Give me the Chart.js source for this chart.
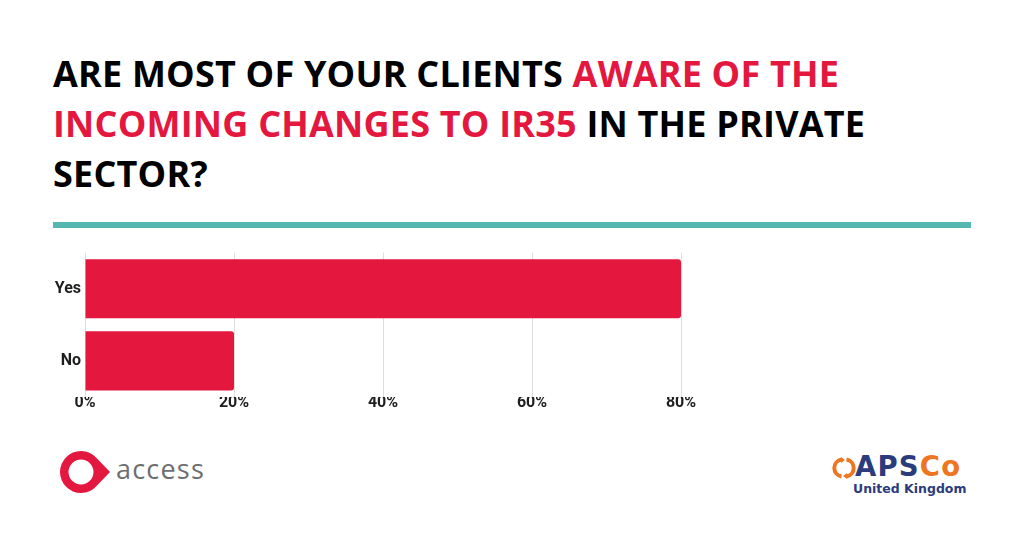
<!DOCTYPE html>
<html>
<head>
<meta charset="utf-8">
<script src="https://cdn.jsdelivr.net/npm/chart.js@4.4.0/dist/chart.umd.min.js"></script>
<style>
  html, body { margin:0; padding:0; background:#fff; }
  body { width:1024px; height:535px; position:relative; overflow:hidden; font-family:"Open Sans", sans-serif; }
  #title { position:absolute; left:53px; top:49px; width:940px; font-family:"Open Sans", sans-serif; font-weight:700; font-size:36px; line-height:50px; color:#000; letter-spacing:0.2px; }
  #title .hl { color:#e4173f; }
  #rule { position:absolute; left:53px; top:222px; width:918px; height:6px; background:#55b8b0; }
  #wrap { position:absolute; left:40px; top:239px; width:680px; height:178px; }
  #access { position:absolute; left:56px; top:446px; width:160px; height:54px; }
  #accessText { position:absolute; left:116px; top:451px; font-family:"Open Sans", sans-serif; font-size:27px; color:#6d6e70; letter-spacing:1.2px; line-height:36px; }
  #apsIcon { position:absolute; left:832px; top:457px; width:24px; height:22px; }
  #aps { position:absolute; left:855px; top:451px; font-family:"DejaVu Sans", sans-serif; font-weight:700; font-size:27.5px; line-height:30px; color:#2b3b7c; letter-spacing:1.2px; }
  #aps .co { color:#ee7623; }
  #uk { position:absolute; left:853px; top:481px; font-family:"DejaVu Sans", sans-serif; font-weight:700; font-size:12.5px; line-height:16px; color:#2b3b7c; }
</style>
</head>
<body>
<div id="title">ARE MOST OF YOUR CLIENTS <span class="hl">AWARE OF THE INCOMING CHANGES TO IR35</span> IN THE PRIVATE SECTOR?</div>
<div id="rule"></div>
<div id="wrap"><canvas id="c"></canvas></div>

<svg id="access" viewBox="0 0 160 54" xmlns="http://www.w3.org/2000/svg">
  <path d="M25 5 A21 21 0 1 0 25 47 A21 21 0 0 0 41 39.5 L54 26 L41 12.5 A21 21 0 0 0 25 5 Z M25 13.5 A12.5 12.5 0 1 1 25 38.5 A12.5 12.5 0 1 1 25 13.5 Z" fill="#e4173f" fill-rule="evenodd"/>
</svg>
<div id="accessText">access</div>

<svg id="apsIcon" viewBox="0 0 24 22" xmlns="http://www.w3.org/2000/svg">
  <path d="M9.5 2.6 A8.5 8.5 0 0 0 9.5 19.4" stroke="#ee7623" stroke-width="4" fill="none"/>
  <path d="M14.5 2.6 A8.5 8.5 0 0 1 14.5 19.4" stroke="#ee7623" stroke-width="4" fill="none"/>
  <path d="M9 0 L13 3 L9 6 Z" fill="#ee7623"/>
  <path d="M15 16 L11 19 L15 22 Z" fill="#ee7623"/>
</svg>
<div id="aps">APS<span class="co">Co</span></div>
<div id="uk">United Kingdom</div>

<script>
const categories = ["Yes", "No"];
const values = [80, 20];
const tickValues = [0, 20, 40, 60, 80];

const ctx = document.getElementById('c');
new Chart(ctx, {
  type: 'bar',
  data: {
    labels: categories,
    datasets: [{
      data: values,
      backgroundColor: '#e4173f',
      borderRadius: 3,
      borderSkipped: 'start',
      barPercentage: 0.9,
      categoryPercentage: 0.91
    }]
  },
  options: {
    indexAxis: 'y',
    responsive: true,
    maintainAspectRatio: false,
    animation: false,
    layout: { padding: { top: 0, right: 39, bottom: 0, left: 0 } },
    plugins: { legend: { display: false }, tooltip: { enabled: false } },
    scales: {
      x: {
        min: 0, max: 80,
        afterBuildTicks: (s) => { s.ticks = tickValues.map(v => ({ value: v })); },
        afterFit: (s) => { s.height = 20; },
        grid: { color: '#dddddd', drawTicks: false, lineWidth: 1 },
        border: { display: false },
        ticks: {
          padding: -4,
          color: '#1e1e1e',
          showLabelBackdrop: true,
          backdropColor: '#ffffff',
          backdropPadding: { top: 4, bottom: 0, left: 1, right: 1 },
          font: { family: 'Roboto, sans-serif', size: 16, weight: 'bold' },
          callback: (v) => v + '%'
        }
      },
      y: {
        afterFit: (s) => { s.width = 45; },
        grid: { display: false, drawTicks: false },
        border: { display: false },
        ticks: {
          padding: 4,
          color: '#1e1e1e',
          font: { family: 'Roboto, sans-serif', size: 16, weight: 'bold' }
        }
      }
    }
  }
});
</script>
</body>
</html>
